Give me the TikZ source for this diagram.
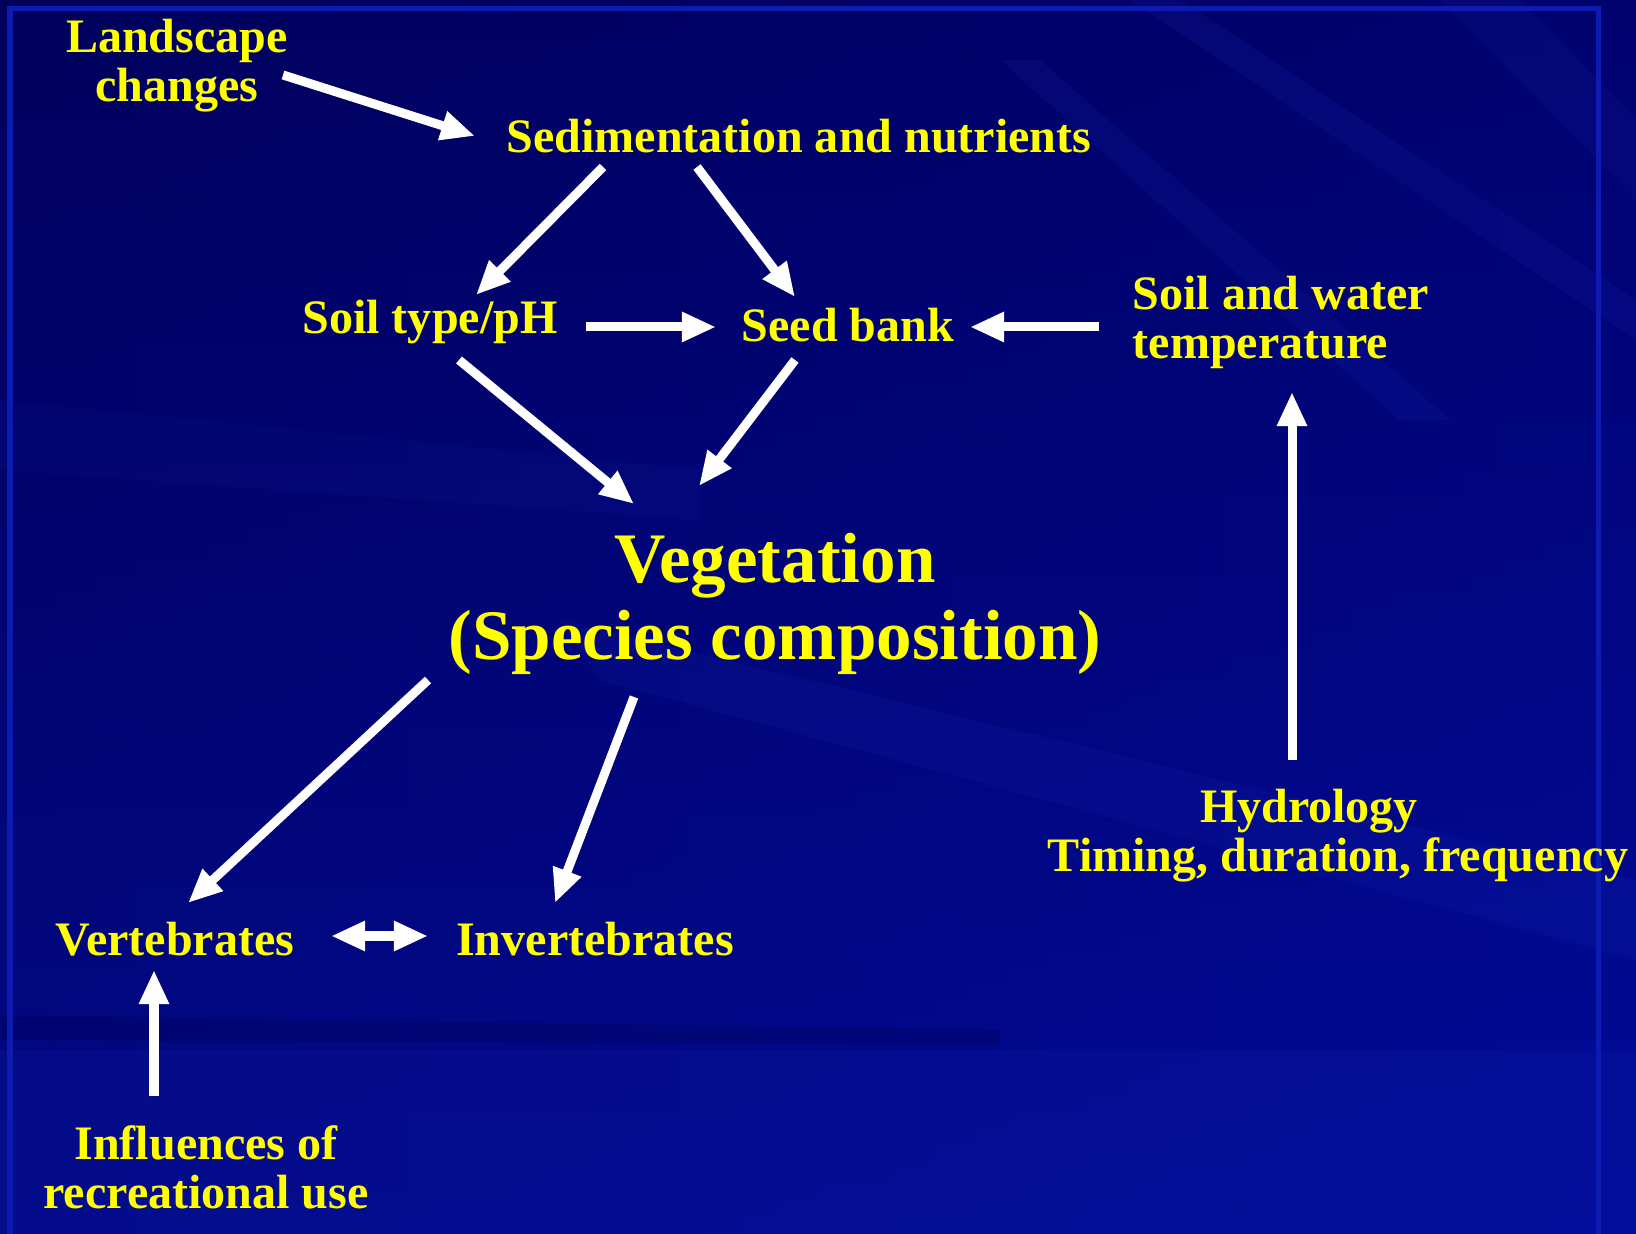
\documentclass[tikz,border=0pt]{standalone}
\usepackage{fontspec}
\setmainfont{Liberation Serif}
\usetikzlibrary{arrows.meta,calc}
\definecolor{bgdark}{RGB}{0,0,92}
\definecolor{bgmid}{RGB}{0,6,135}
\definecolor{bglight}{RGB}{4,16,168}
\definecolor{streak}{RGB}{40,60,210}
\definecolor{framec}{RGB}{12,28,178}
\definecolor{txt}{RGB}{255,255,0}
\begin{document}
\begin{tikzpicture}[x=0.01cm,y=-0.01cm,
  lbl/.style={text=txt,font=\bfseries\fontsize{13.66}{13.94}\selectfont,inner sep=0pt,align=center},
  big/.style={text=txt,font=\bfseries\fontsize{20.2}{21.9}\selectfont,inner sep=0pt,align=center},
  arr/.style={draw=white,line width=0.9mm,-{Triangle[length=3.4mm,width=2.8mm]}},
  darr/.style={draw=white,line width=0.9mm,{Triangle[length=3.4mm,width=2.8mm]}-{Triangle[length=3.4mm,width=2.8mm]}}]
\useasboundingbox (0,0) rectangle (1636,1234);
% background
\shade[left color=bgdark, right color=bgmid] (0,0) rectangle (1636,1234);
\shade[top color=bgdark, bottom color=bglight, opacity=0.55] (0,0) rectangle (1636,1234);
\fill[streak, opacity=0.10] (1130,0) -- (1180,0) -- (1636,300) -- (1636,340) -- cycle;
\fill[streak, opacity=0.10] (1000,60) -- (1040,60) -- (1450,420) -- (1400,420) -- cycle;
\fill[streak, opacity=0.08] (1440,0) -- (1520,0) -- (1636,120) -- (1636,200) -- cycle;
\fill[streak, opacity=0.10] (560,620) -- (1636,880) -- (1636,960) -- (600,680) -- cycle;
\fill[streak, opacity=0.06] (0,400) -- (700,470) -- (700,520) -- (0,470) -- cycle;
\fill[streak, opacity=0.08] (0,1050) rectangle (1636,1234);
\fill[bgdark, opacity=0.35] (0,1015) -- (1000,1030) -- (1000,1045) -- (0,1040) -- cycle;
\draw[framec, line width=0.5mm] (10,1234) -- (10,9) -- (1598,9) -- (1598,1234);
% nodes
\node[lbl] (land) at (177,66) {Landscape\\changes};
\node[lbl] (sed) at (799,136) {Sedimentation and nutrients};
\node[lbl] (soil) at (430,322) {Soil type/pH};
\node[lbl] (seed) at (848,325) {Seed bank};
\node[lbl,anchor=west,align=left] (sw) at (1132,322) {Soil and water\\temperature};
\node[big] (veg) at (775,604) {Vegetation\\(Species composition)};
\node[lbl] (vert) at (175,939) {Vertebrates};
\node[lbl] (invert) at (595,939) {Invertebrates};
\node[lbl] (infl) at (206,1167) {Influences of\\recreational use};
\node[lbl] (hyd) at (1338,836) {Hydrology\hspace*{0.58cm}\\Timing, duration, frequency};
% connectors
\draw[arr] ([shift={(106,9)}]land.center) -- ([shift={(-324,0)}]sed.center);
\draw[arr] ([shift={(-196,31)}]sed.center) -- ([shift={(46,-27)}]soil.center);
\draw[arr] ([shift={(-102,31)}]sed.center) -- ([shift={(-53,-28)}]seed.center);
\draw[arr] ([shift={(156,5)}]soil.center) -- ([shift={(-132,2)}]seed.center);
\draw[arr] ([shift={(-33,5)}]sw.west) -- ([shift={(122,2)}]seed.center);
\draw[arr] ([shift={(29,38)}]soil.center) -- ([shift={(-141,-100)}]veg.center);
\draw[arr] ([shift={(-53,35)}]seed.center) -- ([shift={(-76,-118)}]veg.center);
\draw[arr] ([shift={(-347,76)}]veg.center) -- ([shift={(13,-36)}]vert.center);
\draw[arr] ([shift={(-141,93)}]veg.center) -- ([shift={(-40,-36)}]invert.center);
\draw[darr] ([shift={(156,-3)}]vert.center) -- ([shift={(253,-3)}]vert.center);
\draw[arr] ([shift={(-52,-71)}]infl.center) -- ([shift={(-21,31)}]vert.center);
\draw[arr] ([shift={(-46,-76)}]hyd.center) -- ([shift={(160,70)}]sw.west);
\end{tikzpicture}
\end{document}
